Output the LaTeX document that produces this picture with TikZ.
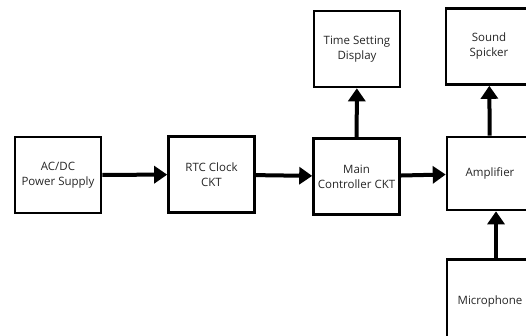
\documentclass[tikz,border=0pt]{standalone}
\usepackage{fontspec}
\setmainfont{Open Sans}
\usetikzlibrary{arrows.meta}

\begin{document}
\begin{tikzpicture}[x=1pt,y=-1pt,
  blk/.style={draw, line width=2.6pt, minimum width=86pt, minimum height=76pt,
    align=center, inner sep=1pt, text=black!85,
    font=\fontsize{11.5}{15}\selectfont},
  arr/.style={line width=4pt, -{Triangle[width=17pt,length=13pt]}}]
\useasboundingbox (0,0) rectangle (526,335);
\clip (0,0) rectangle (526,335);
%
\node[blk] (power) at (58,175) {AC/DC\\Power Supply};
\node[blk] (rtc) at (211.5,174.5) {RTC Clock\\CKT};
\node[blk] (main) at (356.5,176.5) {Main\\Controller CKT};
\node[blk] (disp) at (357,49) {Time Setting\\Display};
\node[blk] (sound) at (489,46.5) {Sound\\Spicker};
\node[blk, minimum height=73pt] (amp) at (490,173.5) {Amplifier};
\node[blk, minimum height=85pt] (mic) at (490,302) {Microphone};
%
\draw[arr] (power) -- (rtc);
\draw[arr] (rtc) -- (main);
\draw[arr] (main) -- (amp);
\draw[arr] (main) -- (disp);
\draw[arr] (amp) -- (sound);
\draw[arr] ([xshift=6pt]mic.north) -- ([xshift=6pt]amp.south);
\end{tikzpicture}
\end{document}
